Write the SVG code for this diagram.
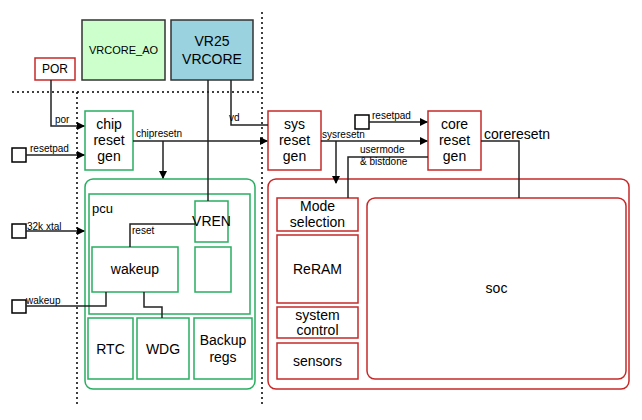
<svg xmlns="http://www.w3.org/2000/svg" width="642" height="420" viewBox="0 0 642 420">
<style>
text{font-family:"Liberation Sans",Arial,sans-serif;fill:#000}
.g{fill:#fff;stroke:#27ae60;stroke-width:1.5}
.r{fill:#fff;stroke:#c62828;stroke-width:1.5}
.k{fill:#fff;stroke:#000;stroke-width:1.5}
.c{fill:none;stroke:#222;stroke-width:1.5}
.d{fill:none;stroke:#000;stroke-width:1.5;stroke-dasharray:2,3}
.t14{font-size:14px;text-anchor:middle}
.t12{font-size:12px;text-anchor:middle}
.l{font-size:10px}
</style>
<defs><marker id="a" markerWidth="8" markerHeight="8" refX="7" refY="4" orient="auto" markerUnits="userSpaceOnUse"><path d="M0,0L8,4L0,8z" fill="#000"/></marker></defs>
<rect width="642" height="420" fill="#fff"/>
<g id="dividers">
<path class="d" d="M12,92H262M77,92V405M262,12V405"/>
</g>
<g id="POR"><rect class="r" x="35" y="58" width="40" height="22"/><text class="t12" x="55" y="73" font-size="10">POR</text></g>
<g id="VRCORE_AO"><rect x="82" y="20" width="83" height="60" fill="#ccffcc" stroke="#333" stroke-width="1.5"/><text class="t12" x="123.5" y="54" style="font-size:11px">VRCORE_AO</text></g>
<g id="VR25"><rect x="171" y="20" width="82" height="60" fill="#9ad2e0" stroke="#333" stroke-width="1.5"/><text class="t14" x="212" y="46">VR25</text><text class="t14" x="212" y="64">VRCORE</text></g>
<g id="chipresetgen"><rect class="g" x="85" y="111" width="48" height="59"/><text class="t14" x="109" y="129">chip</text><text class="t14" x="109" y="145">reset</text><text class="t14" x="109" y="161">gen</text></g>
<g id="sysresetgen"><rect class="r" x="268" y="111" width="53" height="59"/><text class="t14" x="294.5" y="129">sys</text><text class="t14" x="294.5" y="145">reset</text><text class="t14" x="294.5" y="161">gen</text></g>
<g id="coreresetgen"><rect class="r" x="428" y="111" width="53" height="59"/><text class="t14" x="454.5" y="129">core</text><text class="t14" x="454.5" y="145">reset</text><text class="t14" x="454.5" y="161">gen</text></g>
<g id="pads">
<rect class="k" x="12" y="148" width="14" height="14" stroke-width="1.2"/>
<rect class="k" x="12" y="224" width="14" height="14" stroke-width="1.2"/>
<rect class="k" x="12" y="300" width="14" height="13" stroke-width="1.2"/>
<rect class="k" x="355" y="115" width="14" height="14" stroke-width="1.2"/>
</g>
<g id="pcu">
<rect class="g" x="85" y="179" width="170" height="210" rx="8"/>
<rect class="g" x="89" y="194" width="161" height="120"/>
<text x="92" y="213" font-size="13">pcu</text>
</g>
<g id="VREN"><rect class="g" x="195" y="201" width="33" height="41"/><text class="t14" x="211.5" y="226">VREN</text></g>
<g id="wakeup"><rect class="g" x="92" y="247" width="86" height="45"/><text class="t14" x="135" y="274">wakeup</text></g>
<g id="blank"><rect class="g" x="195" y="247" width="36" height="45"/></g>
<g id="RTC"><rect class="g" x="88" y="318" width="45" height="61"/><text class="t14" x="110.5" y="354">RTC</text></g>
<g id="WDG"><rect class="g" x="137" y="318" width="52" height="61"/><text class="t14" x="163" y="354">WDG</text></g>
<g id="Backup"><rect class="g" x="194" y="318" width="58" height="61"/><text class="t14" x="223" y="345">Backup</text><text class="t14" x="223" y="362">regs</text></g>
<g id="sysdomain"><rect class="r" x="268" y="179" width="361" height="210" rx="8"/></g>
<g id="mode"><rect class="r" x="277" y="198" width="81" height="33"/><text class="t14" x="317.5" y="211">Mode</text><text class="t14" x="317.5" y="227">selection</text></g>
<g id="reram"><rect class="r" x="277" y="235" width="81" height="68"/><text class="t14" x="317.5" y="274">ReRAM</text></g>
<g id="sysctrl"><rect class="r" x="277" y="307" width="81" height="31"/><text class="t14" x="317.5" y="320">system</text><text class="t14" x="317.5" y="335">control</text></g>
<g id="sensors"><rect class="r" x="277" y="343" width="81" height="36"/><text class="t14" x="317.5" y="366">sensors</text></g>
<g id="soc"><rect class="r" x="367" y="198" width="259" height="181" rx="8"/><text class="t14" x="496.5" y="293">soc</text></g>
<g id="connectors">
<path class="c" d="M51,80V126H84" marker-end="url(#a)"/>
<path class="c" d="M26,155H84" marker-end="url(#a)"/>
<path class="c" d="M133,141H267" marker-end="url(#a)"/>
<path class="c" d="M163,141V178" marker-end="url(#a)"/>
<path class="c" d="M208,80V201"/>
<path class="c" d="M231,80V125H268"/>
<path class="c" d="M195,224H130V247"/>
<path class="c" d="M26,231H84" marker-end="url(#a)"/>
<path class="c" d="M26,306H106V292"/>
<path class="c" d="M144,292V307H162V318"/>
<path class="c" d="M321,141H427" marker-end="url(#a)"/>
<path class="c" d="M336,141V183" marker-end="url(#a)"/>
<path class="c" d="M369,122H427" marker-end="url(#a)"/>
<path class="c" d="M428,157H348V198"/>
<path class="c" d="M481,141H519V198"/>
<text class="l" x="55" y="123">por</text>
<text class="l" x="30" y="152">resetpad</text>
<text class="l" x="136" y="137">chipresetn</text>
<text class="l" x="229" y="121">vd</text>
<text class="l" x="132" y="234">reset</text>
<text class="l" x="27" y="230">32k xtal</text>
<text class="l" x="26" y="304">wakeup</text>
<text class="l" x="322" y="138">sysresetn</text>
<text class="l" x="372" y="119">resetpad</text>
<text class="l" x="360" y="153">usermode</text>
<text class="l" x="360" y="165">&amp; bistdone</text>
<text x="484" y="139" font-size="14">coreresetn</text>
</g>
</svg>
